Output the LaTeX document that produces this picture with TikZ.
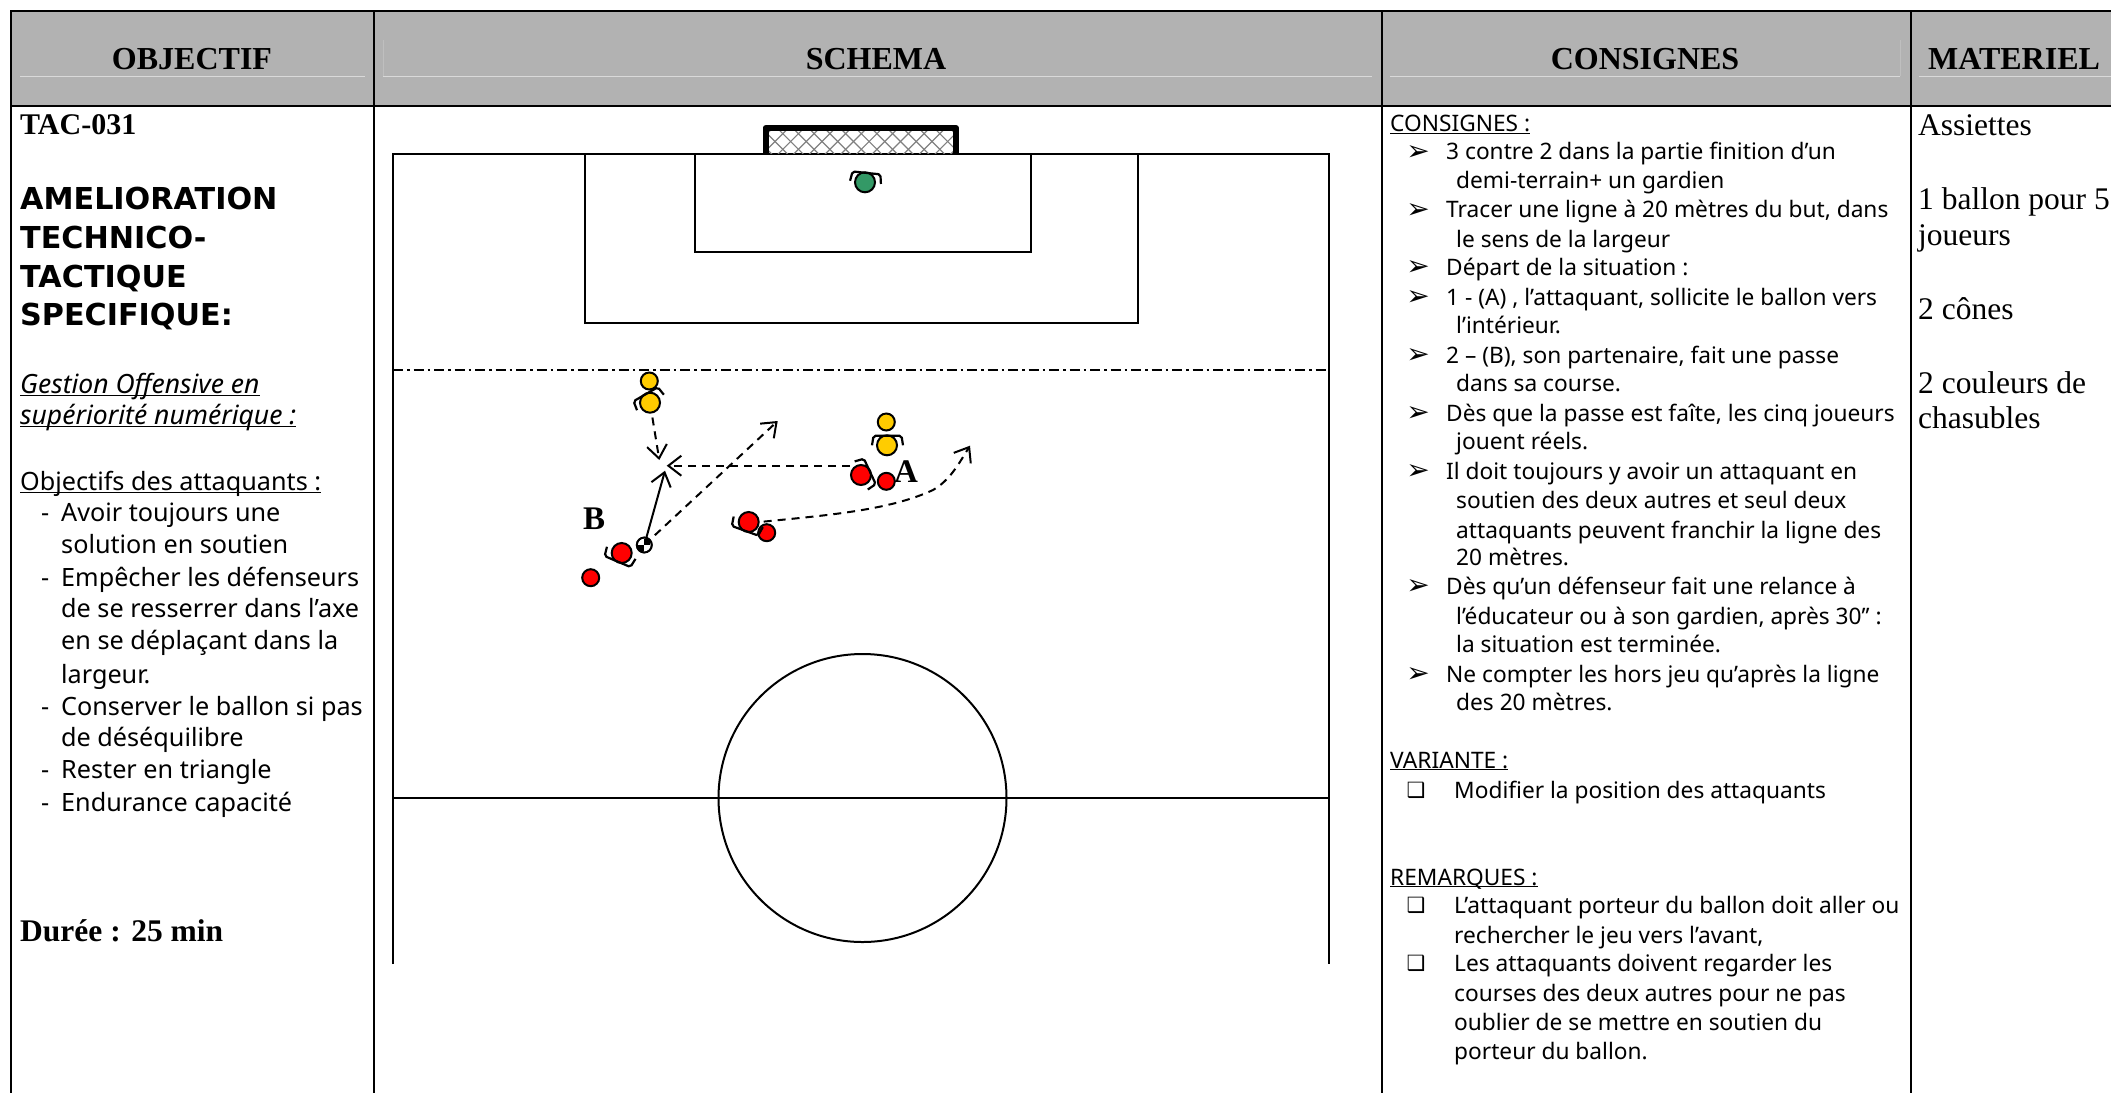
\documentclass[tikz,border=0pt]{standalone}
\usepackage{fontspec}
\setmainfont{Noto Sans}
\newfontfamily\timesfont{Liberation Serif}
\newfontfamily\titlefont{DejaVu Sans}
\newfontfamily\symfont{DejaVu Sans}
\usetikzlibrary{arrows.meta}

\definecolor{entete}{HTML}{B2B2B2}
\definecolor{jaune}{HTML}{FFCC00}
\definecolor{rouge}{HTML}{FF0000}
\definecolor{gardien}{HTML}{339966}

\tikzset{
  titre/.style={font=\fontsize{32}{34}\selectfont\timesfont\bfseries, inner sep=0pt},
  gauche/.style={font=\fontsize{25.2}{30}\selectfont, anchor=mid west, inner sep=0pt, yshift=-7.5pt},
  penche/.style={gauche, font=\fontsize{26.5}{30}\selectfont\itshape},
  corps/.style={font=\fontsize{22.7}{28}\selectfont, anchor=mid west, inner sep=0pt, yshift=-6.5pt},
  grand/.style={font=\fontsize{30.2}{34}\selectfont\titlefont\bfseries, anchor=mid west, inner sep=0pt, yshift=-7.5pt},
  serif/.style={font=\fontsize{31.5}{34}\selectfont\timesfont, anchor=mid west, inner sep=0pt, yshift=-7.5pt},
  gras/.style={anchor=mid west, inner sep=0pt, yshift=-7.5pt, font=\fontsize{#1}{34}\selectfont\timesfont\bfseries},
  puce/.style={font=\fontsize{21}{24}\selectfont\symfont\bfseries, inner sep=0pt, yshift=-1pt},
  fleche/.style={font=\fontsize{28}{30}\selectfont\symfont, inner sep=0pt, yshift=-2pt},
  terrain/.style={line width=2pt},
  tete/.style={circle, draw, line width=2pt, minimum size=17pt, inner sep=0pt},
  corpsj/.style={circle, draw, line width=2pt, minimum size=20pt, inner sep=0pt},
  bras/.style={line width=2.2pt, rounded corners=2pt},
  passe/.style={line width=2pt, dash pattern=on 8pt off 6pt, -{Straight Barb[length=13pt,width=20pt]}},
  balle/.style={line width=2pt, -{Straight Barb[length=13pt,width=20pt]}}
}

\newcommand{\bras}[2]{\draw[bras, shift={(#1.center)}, rotate=#2] (-15,0) -- (-13.5,-9.5) -- (14.5,-9.5) -- (16,0);}
\newcommand{\souligne}[1]{\underline{\smash{#1}}}

\begin{document}
\begin{tikzpicture}[x=1pt,y=-1pt]
  \useasboundingbox (0,0) rectangle (2111,1093);

  % entete
  \fill[entete] (11,11) rectangle (2111,106);
  \draw[white!85!black, line width=1pt] (20,76) -- (365,76);
  \draw[white!85!black, line width=1pt] (383,76) -- (1372,76);
  \draw[white!85!black, line width=1pt] (1390,76) -- (1900,76);
  \draw[white!85!black, line width=1pt] (1919,76) -- (2111,76);
  \draw[white!75!black, line width=.5pt] (383,40) -- (383,76);
  \draw[white!75!black, line width=.5pt] (1900,40) -- (1900,76);
  \node[titre] (tobj) at (192,59) {OBJECTIF};
  \node[titre] (tsch) at (876,59) {SCHEMA};
  \node[titre] (tcon) at (1645,59) {CONSIGNES};
  \node[titre] (tmat) at (2014,59) {MATERIEL};

  % tableau
  \draw[line width=2.6pt] (2111,11) -- (11,11) -- (11,1093);
  \draw[line width=2.6pt] (11,106) -- (2111,106);
  \draw[line width=2.6pt] (374,11) -- (374,1093);
  \draw[line width=2.6pt] (1382,11) -- (1382,1093);
  \draw[line width=2.6pt] (1911,11) -- (1911,1093);

  % objectif
  \node[gras=30] (o1) at (20,124) {TAC-031};
  \node[grand] (o2) at (20,199) {AMELIORATION};
  \node[grand] (o3) at (20,238) {TECHNICO-};
  \node[grand] (o4) at (20,277) {TACTIQUE};
  \node[grand] (o5) at (20,315) {SPECIFIQUE:};
  \node[penche] (o6) at (20,383.6) {\souligne{Gestion Offensive en}};
  \node[penche] (o7) at (20,414.6) {\souligne{supériorité numérique :}};
  \node[gauche] (o8) at (20,480.5) {\souligne{Objectifs des attaquants :}};
  \node[gauche] (o9) at (61,511.5) {Avoir toujours une};
  \node[gauche] (o10) at (61,543.8) {solution en soutien};
  \node[gauche] (o11) at (61,576) {Empêcher les défenseurs};
  \node[gauche] (o12) at (61,607) {de se resserrer dans l’axe};
  \node[gauche] (o13) at (61,639) {en se déplaçant dans la};
  \node[gauche] (o14) at (61,673) {largeur.};
  \node[gauche] (o15) at (61,705) {Conserver le ballon si pas};
  \node[gauche] (o16) at (61,736) {de déséquilibre};
  \node[gauche] (o17) at (61,768.6) {Rester en triangle};
  \node[gauche] (o18) at (61,801) {Endurance capacité};
  \foreach \y in {511.5,576,705,768.6,801}
    \node[gauche] (tiret\y) at (41,\y) {-};
  \node[gras=31.5] (o19) at (20,931.5) {Durée : 25 min};

  % terrain
  \draw[terrain] (393,964) -- (393,153.5) -- (1329,153.5) -- (1329,964);
  \draw[terrain] (584.5,153.5) -- (584.5,323) -- (1137.5,323) -- (1137.5,153.5);
  \draw[terrain] (695,153.5) -- (695,251.5) -- (1031,251.5) -- (1031,153.5);
  \draw[line width=2pt, dash pattern=on 10pt off 4pt on 2.5pt off 4pt] (393,369.5) -- (1329,369.5);
  \draw[terrain] (393,798) -- (1329,798);
  \draw[terrain] (862.5,798) circle (144pt);

  % but
  \begin{scope}
    \clip (765,128) rectangle (957,153);
    \foreach \i in {0,...,16} {
      \draw[gray, line width=1.2pt] ({730+\i*15.7},128) -- ++(27,27);
      \draw[gray, line width=1.2pt] ({730+\i*15.7},155) -- ++(27,-27);
    }
  \end{scope}
  \draw[line width=6pt, line join=round] (765.5,153) -- (765.5,128) -- (956,128) -- (956,153);

  % gardien
  \node[corpsj, fill=gardien] (gar) at (865,182.3) {};
  \bras{gar}{-6}

  % defenseurs
  \node[tete, fill=jaune] (jt1) at (649.3,381) {};
  \node[corpsj, fill=jaune] (jc1) at (650,402.7) {};
  \bras{jc1}{30}
  \node[tete, fill=jaune] (jt2) at (886.3,422) {};
  \node[corpsj, fill=jaune] (jc2) at (887,445.3) {};
  \bras{jc2}{0}

  % attaquants
  \node[corpsj, fill=rouge] (ra) at (861,475) {};
  \node[tete, fill=rouge] (ta) at (886.3,481.3) {};
  \bras{ra}{-65}
  \node[corpsj, fill=rouge] (rc) at (748.7,522) {};
  \node[tete, fill=rouge] (tc) at (766.7,532.7) {};
  \bras{rc}{160}
  \node[corpsj, fill=rouge] (rb) at (621.7,553) {};
  \node[tete, fill=rouge] (tb) at (590.7,577.7) {};
  \bras{rb}{157}
  \node[font=\fontsize{33}{34}\selectfont\timesfont\bfseries, inner sep=0pt] (la) at (906,471.5) {A};
  \node[font=\fontsize{33}{34}\selectfont\timesfont\bfseries, inner sep=0pt] (lb) at (594,518.5) {B};

  % ballon
  \node[circle, draw, line width=1.8pt, fill=white, minimum size=15pt, inner sep=0pt] (bal) at (644.3,545) {};
  \fill (bal.center) rectangle (bal.north east);
  \fill (bal.center) rectangle (bal.south west);
  \draw[line width=1.8pt] (bal) circle (7.5pt);

  % courses
  \coordinate (p1) at (659.3,460);
  \coordinate (p2) at (666.7,465.7);
  \coordinate (p3) at (665,470.7);
  \coordinate (p4) at (777.7,421);
  \coordinate (p5) at (970,445.7);
  \draw[passe, shorten <=4pt] (jc1) -- (p1);
  \draw[passe] (ra.west |- p2) -- (p2);
  \draw[balle] (bal) -- (p3);
  \draw[passe, shorten <=6pt] (bal) -- (p4);
  \draw[passe, shorten <=4pt] (rc.east) .. controls (830,515) and (890,510) .. (933,490) .. controls (950,480) and (958,465) .. (p5);

  % consignes
  \node[corps] (c0) at (1390,122.5) {\souligne{CONSIGNES :}};
  \foreach \y in {150.8,208.6,266.5,296,354,412,470,585.5,673}
    \node[fleche] (fl\y) at (1418,\y) {➢};
  \node[corps] (c1) at (1446,150.8) {3 contre 2 dans la partie finition d’un};
  \node[corps] (c2) at (1456,179) {demi-terrain+ un gardien};
  \node[corps] (c3) at (1446,208.6) {Tracer une ligne à 20 mètres du but, dans};
  \node[corps] (c4) at (1456,238) {le sens de la largeur};
  \node[corps] (c5) at (1446,266.5) {Départ de la situation :};
  \node[corps] (c6) at (1446,296) {1 - (A) , l’attaquant, sollicite le ballon vers};
  \node[corps] (c7) at (1456,324.4) {l’intérieur.};
  \node[corps] (c8) at (1446,354) {2 – (B), son partenaire, fait une passe};
  \node[corps] (c9) at (1456,382.3) {dans sa course.};
  \node[corps] (c10) at (1446,412) {Dès que la passe est faîte, les cinq joueurs};
  \node[corps] (c11) at (1456,440) {jouent réels.};
  \node[corps] (c12) at (1446,470) {Il doit toujours y avoir un attaquant en};
  \node[corps] (c13) at (1456,499.4) {soutien des deux autres et seul deux};
  \node[corps] (c14) at (1456,529) {attaquants peuvent franchir la ligne des};
  \node[corps] (c15) at (1456,556) {20 mètres.};
  \node[corps] (c16) at (1446,585.5) {Dès qu’un défenseur fait une relance à};
  \node[corps] (c17) at (1456,615) {l’éducateur ou à son gardien, après 30’’ :};
  \node[corps] (c18) at (1456,643.4) {la situation est terminée.};
  \node[corps] (c19) at (1446,673) {Ne compter les hors jeu qu’après la ligne};
  \node[corps] (c20) at (1456,701) {des 20 mètres.};
  \node[corps] (c21) at (1390,759) {\souligne{VARIANTE :}};
  \node[corps] (c22) at (1454,789) {Modifier la position des attaquants};
  \node[corps] (c23) at (1390,876) {\souligne{REMARQUES :}};
  \node[corps] (c24) at (1454,904.5) {L’attaquant porteur du ballon doit aller ou};
  \node[corps] (c25) at (1454,934) {rechercher le jeu vers l’avant,};
  \node[corps] (c26) at (1454,962.4) {Les attaquants doivent regarder les};
  \node[corps] (c27) at (1454,992) {courses des deux autres pour ne pas};
  \node[corps] (c28) at (1454,1021.6) {oublier de se mettre en soutien du};
  \node[corps] (c29) at (1454,1050) {porteur du ballon.};
  \foreach \y in {789,904.5,962.4}
    \node[puce] (ca\y) at (1416,\y) {❑};

  % materiel
  \node[serif] (m1) at (1918,125) {Assiettes};
  \node[serif] (m2) at (1918,199) {1 ballon pour 5};
  \node[serif] (m3) at (1918,235.5) {joueurs};
  \node[serif] (m4) at (1918,309.6) {2 cônes};
  \node[serif] (m5) at (1918,383.6) {2 couleurs de};
  \node[serif] (m6) at (1918,418.6) {chasubles};

\end{tikzpicture}
\end{document}
